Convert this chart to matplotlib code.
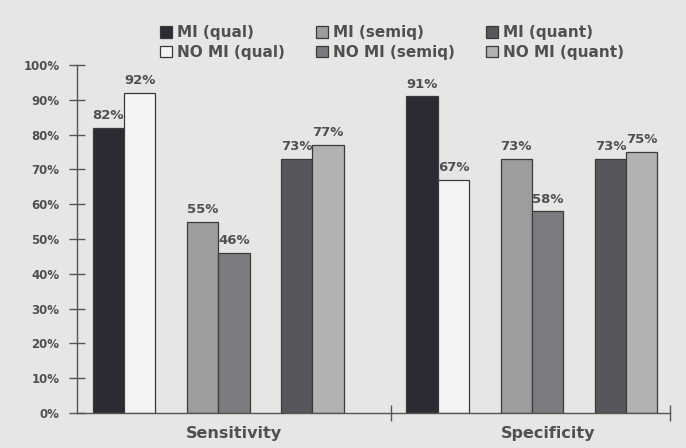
import numpy as np
import matplotlib
matplotlib.use('Agg')
from matplotlib import pyplot as plt

# %% data

categories = ['Sensitivity', 'Specificity']
series = ['MI (qual)', 'NO MI (qual)', 'MI (semiq)', 'NO MI (semiq)',
          'MI (quant)', 'NO MI (quant)']
values = {
    'MI (qual)': [82, 91],
    'NO MI (qual)': [92, 67],
    'MI (semiq)': [55, 73],
    'NO MI (semiq)': [46, 58],
    'MI (quant)': [73, 73],
    'NO MI (quant)': [77, 75],
}

# %% styles

colors = ['#2b2b33', '#f4f4f4', '#9d9d9d', '#7c7c80', '#56565c', '#b2b2b2']
offsets = [-3.5, -2.5, -0.5, 0.5, 2.5, 3.5]
text_col = '#505050'
bg = '#e6e6e4'

plt.rcParams['font.family'] = 'DejaVu Sans'
plt.rcParams['font.weight'] = 'bold'

fig = plt.figure(figsize=(6.86, 4.48), dpi=100, facecolor=bg)
ax = fig.add_axes([0.1122, 0.0781, 0.9767 - 0.1122, 0.855 - 0.0781])
ax.set_facecolor(bg)

centers = np.arange(len(categories)) * 10.0

for s, c, off in zip(series, colors, offsets):
    bars = ax.bar(centers + off, values[s], width=1.0, color=c,
                  edgecolor='#3a3a3a', linewidth=0.9, label=s, zorder=2)
    for b, v in zip(bars, values[s]):
        ax.annotate(f'{v}%', (b.get_x() + b.get_width() / 2, v),
                    xytext=(0, 4), textcoords='offset points',
                    ha='center', va='bottom', fontsize=9.5,
                    fontweight='bold', color=text_col)

# %% axes

ax.set_xlim(-4.5, 14.4)
ax.set_ylim(0, 100)
for sp in ['top', 'right']:
    ax.spines[sp].set_visible(False)
for sp in ['left', 'bottom']:
    ax.spines[sp].set_color('#555555')
    ax.spines[sp].set_linewidth(1.0)

ax.set_yticks(np.arange(0, 101, 10))
ax.set_yticklabels([f'{t}%' for t in range(0, 101, 10)])
ax.tick_params(axis='y', direction='inout', length=11, width=1.0,
               color='#555555', labelsize=8.5, labelcolor=text_col, pad=7)

ax.set_xticks([5.5, 14.4])
ax.set_xticklabels(['', ''])
ax.tick_params(axis='x', which='major', direction='inout', length=11,
               width=1.0, color='#555555')
ax.set_xticks(centers + 0.5, minor=True)
ax.set_xticklabels(categories, minor=True)
ax.tick_params(axis='x', which='minor', length=0, pad=9, labelsize=11.5,
               labelcolor=text_col)

leg = fig.legend(loc='center', bbox_to_anchor=(0.571, 0.905), ncol=3,
                 frameon=False, fontsize=11, handlelength=0.8,
                 handleheight=0.8, handletextpad=0.3, columnspacing=2.05,
                 labelspacing=0.3)
for t in leg.get_texts():
    t.set_color(text_col)

fig.savefig('out.png', dpi=100, facecolor=bg)
